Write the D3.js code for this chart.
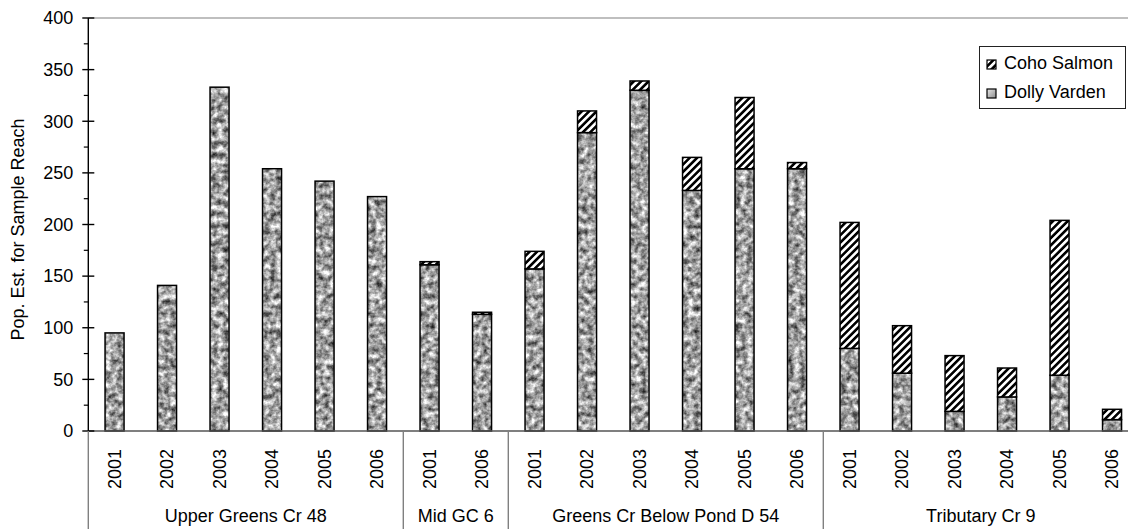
<!DOCTYPE html>
<html>
<head>
<meta charset="utf-8">
<script src="https://cdn.jsdelivr.net/npm/d3@7"></script>
<style>
  html, body { margin: 0; padding: 0; background: #ffffff; }
  svg { display: block; font-family: "Liberation Sans", Arial, sans-serif; }
</style>
</head>
<body>
<svg id="chart" width="1128" height="529"></svg>
<script>
// ---- data ----
const years = ["2001","2002","2003","2004","2005","2006",
               "2001","2006",
               "2001","2002","2003","2004","2005","2006",
               "2001","2002","2003","2004","2005","2006"];
const sites = ["Upper Greens Cr 48","Upper Greens Cr 48","Upper Greens Cr 48","Upper Greens Cr 48","Upper Greens Cr 48","Upper Greens Cr 48",
               "Mid GC 6","Mid GC 6",
               "Greens Cr Below Pond D 54","Greens Cr Below Pond D 54","Greens Cr Below Pond D 54","Greens Cr Below Pond D 54","Greens Cr Below Pond D 54","Greens Cr Below Pond D 54",
               "Tributary Cr 9","Tributary Cr 9","Tributary Cr 9","Tributary Cr 9","Tributary Cr 9","Tributary Cr 9"];
const dollyVarden = [95,141,333,254,242,227, 161,113, 157,289,330,233,254,254, 80,56,19,33,54,11];
const cohoSalmon  = [0,0,0,0,0,0, 3,2, 17,21,9,32,69,6, 122,46,54,28,150,10];
const seriesNames = ["Dolly Varden","Coho Salmon"];
const yTicks = [0,50,100,150,200,250,300,350,400];
const yMinorTicks = [25,75,125,175,225,275,325,375];
const yTitle = "Pop. Est. for Sample Reach";

(function () {
// ---- layout ----
const W = 1128, H = 529;
const left = 88.3, step = 52.5, n = years.length;
const plotTop = 18, plotBottom = 431;
const FS = 18;

const svg = d3.select("#chart");
const defs = svg.append("defs");

// granite-like texture for Dolly Varden
const f = defs.append("filter").attr("id","granite")
  .attr("color-interpolation-filters","sRGB")
  .attr("filterUnits","userSpaceOnUse").attr("x",0).attr("y",0).attr("width",1200).attr("height",H);
f.append("feTurbulence").attr("type","fractalNoise").attr("baseFrequency","0.17")
  .attr("numOctaves",3).attr("seed",11).attr("result","noise");
f.append("feColorMatrix").attr("in","noise").attr("type","matrix")
  .attr("values","1.3 0 0 0 -0.02  1.3 0 0 0 -0.02  1.3 0 0 0 -0.02  0 0 0 0 1").attr("result","gray");
f.append("feComposite").attr("in","gray").attr("in2","SourceAlpha").attr("operator","in");

// hatch for Coho Salmon
const hatch = defs.append("pattern").attr("id","hatch").attr("patternUnits","userSpaceOnUse")
  .attr("width",5.2).attr("height",5.2).attr("patternTransform","rotate(45)");
hatch.append("rect").attr("width",5.2).attr("height",5.2).attr("fill","#ffffff");
hatch.append("rect").attr("width",2.6).attr("height",5.2).attr("fill","#000000");

// legend gradient swatch
const lg = defs.append("linearGradient").attr("id","lgGray").attr("x1",0).attr("y1",0).attr("x2",1).attr("y2",1);
lg.append("stop").attr("offset","0%").attr("stop-color","#e8e8e8");
lg.append("stop").attr("offset","100%").attr("stop-color","#8c8c8c");

// scales
const x = d3.scaleBand().domain(d3.range(n)).range([left, left + step * n])
  .paddingInner(0.638).paddingOuter(0.319);
const y = d3.scaleLinear().domain([0, 400]).range([plotBottom, plotTop]);

// data table and stack
const table = years.map((yr, i) => ({ i, "Dolly Varden": dollyVarden[i], "Coho Salmon": cohoSalmon[i] }));
const stacked = d3.stack().keys(seriesNames)(table);

// top border of plot
svg.append("line").attr("x1", left).attr("x2", W).attr("y1", y(400)).attr("y2", y(400))
  .attr("stroke","#808080").attr("stroke-width",1.2);

// bars: Dolly Varden textured fills
const dv = stacked[0];
svg.append("g").attr("filter","url(#granite)")
  .selectAll("rect").data(dv).join("rect")
  .attr("x", (d, k) => x(k)).attr("width", x.bandwidth())
  .attr("y", d => y(d[1])).attr("height", d => y(d[0]) - y(d[1]))
  .attr("fill","#999");
svg.append("g").selectAll("rect").data(dv).join("rect")
  .attr("x", (d, k) => x(k)).attr("width", x.bandwidth())
  .attr("y", d => y(d[1])).attr("height", d => y(d[0]) - y(d[1]))
  .attr("fill","none").attr("stroke","#000").attr("stroke-width",1.5);

// bars: Coho Salmon hatched
const cs = stacked[1];
svg.append("g").selectAll("rect").data(cs.map((d, k) => ({d, k})).filter(o => o.d[1] - o.d[0] > 0)).join("rect")
  .attr("x", o => x(o.k)).attr("width", x.bandwidth())
  .attr("y", o => y(o.d[1])).attr("height", o => y(o.d[0]) - y(o.d[1]))
  .attr("fill","url(#hatch)").attr("stroke","#000").attr("stroke-width",1.5);

// x axis baseline
svg.append("line").attr("x1", left).attr("x2", W).attr("y1", plotBottom).attr("y2", plotBottom)
  .attr("stroke","#555").attr("stroke-width",1.4);

// y axis
const yAxisG = svg.append("g").attr("transform", `translate(${left},0)`);
yAxisG.append("line").attr("y1", plotTop).attr("y2", plotBottom).attr("stroke","#000").attr("stroke-width",1.4);
yAxisG.selectAll("line.major").data(yTicks).join("line").attr("class","major")
  .attr("x1",-6).attr("x2",6).attr("y1", d => y(d)).attr("y2", d => y(d))
  .attr("stroke","#000").attr("stroke-width",1.4);
yAxisG.selectAll("line.minor").data(yMinorTicks).join("line").attr("class","minor")
  .attr("x1",-4.5).attr("x2",0).attr("y1", d => y(d)).attr("y2", d => y(d))
  .attr("stroke","#000").attr("stroke-width",1.2);
yAxisG.selectAll("text").data(yTicks).join("text")
  .attr("x", -15).attr("y", d => y(d)).attr("dy","0.35em")
  .attr("text-anchor","end").attr("font-size", FS).attr("fill","#000")
  .text(d => d);

// y title
svg.append("text").attr("transform", `translate(24,${(plotTop + plotBottom) / 2 + 5}) rotate(-90)`)
  .attr("text-anchor","middle").attr("font-size", FS).attr("fill","#000").text(yTitle);

// year labels
svg.append("g").selectAll("text").data(years).join("text")
  .attr("transform", (d, k) => `translate(${x(k) + x.bandwidth() / 2},449) rotate(-90)`)
  .attr("dy","0.35em").attr("text-anchor","end").attr("font-size", FS).attr("fill","#000")
  .text(d => d);

// group separators and labels
const groups = [];
sites.forEach((s, k) => {
  if (!groups.length || groups[groups.length - 1].name !== s) groups.push({ name: s, start: k, end: k });
  else groups[groups.length - 1].end = k;
});
const bounds = [0].concat(groups.map(g => g.end + 1));
svg.append("g").selectAll("line").data(bounds).join("line")
  .attr("x1", b => left + b * step).attr("x2", b => left + b * step)
  .attr("y1", plotBottom).attr("y2", H)
  .attr("stroke","#808080").attr("stroke-width",1.4);
svg.append("g").selectAll("text").data(groups).join("text")
  .attr("x", g => left + (g.start + g.end + 1) / 2 * step).attr("y", 522)
  .attr("text-anchor","middle").attr("font-size", FS).attr("fill","#000")
  .text(g => g.name);

// legend
const leg = svg.append("g");
leg.append("rect").attr("x", 979.5).attr("y", 46.5).attr("width", 146).attr("height", 62)
  .attr("fill","#fff").attr("stroke","#222").attr("stroke-width",1);
const legItems = [
  { name: "Coho Salmon", fill: "url(#hatch)", base: 68.5 },
  { name: "Dolly Varden", fill: "url(#lgGray)", base: 97.5 }
];
legItems.forEach(it => {
  leg.append("rect").attr("x", 987).attr("y", it.base - 8.5).attr("width", 9).attr("height", 9)
    .attr("fill", it.fill).attr("stroke","#000").attr("stroke-width",1.2);
  leg.append("text").attr("x", 1004).attr("y", it.base).attr("font-size", FS).attr("fill","#000").text(it.name);
});
})();
</script>
</body>
</html>
